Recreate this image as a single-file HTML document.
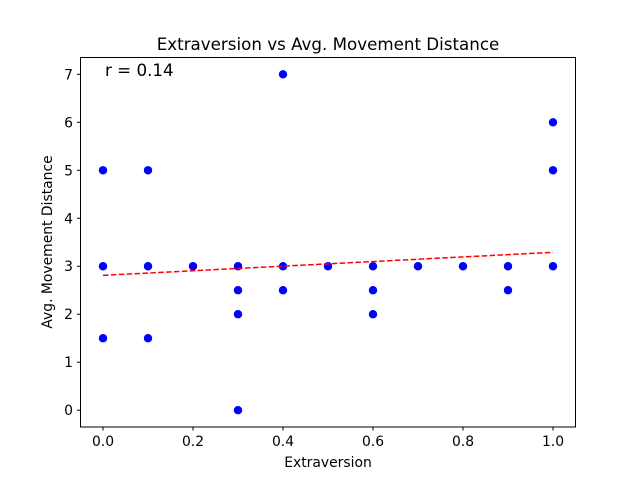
<!DOCTYPE html>
<html><head><meta charset="utf-8"><style>
body{margin:0;background:#fff;}
svg{display:block;font-family:"DejaVu Sans","Liberation Sans",sans-serif;}
</style></head><body>
<svg id="chart" width="640" height="480" viewBox="0 0 640 480">
<text x="328" y="50" text-anchor="middle" font-size="16.7">Extraversion vs Avg. Movement Distance</text>
<text x="105" y="76" font-size="16.7">r = 0.14</text>
<text x="328" y="467" text-anchor="middle" font-size="13.9">Extraversion</text>
<text transform="translate(52,242) rotate(-90)" text-anchor="middle" font-size="13.9">Avg. Movement Distance</text>
<g id="marks"></g>
<rect x="80.5" y="57.5" width="495" height="369.5" fill="none" stroke="#000" stroke-width="1"/>
</svg>
<script>
const xs = [0,0,0,0.1,0.1,0.1,0.2,0.3,0.3,0.3,0.3,0.4,0.4,0.4,0.5,0.6,0.6,0.6,0.7,0.8,0.9,0.9,1,1,1];
const ys = [5,3,1.5,5,3,1.5,3,3,2.5,2,0,7,3,2.5,3,3,2.5,2,3,3,3,2.5,6,5,3];
const xTicks = [0,0.2,0.4,0.6,0.8,1.0];
const xTickLabels = ["0.0","0.2","0.4","0.6","0.8","1.0"];
const yTicks = [0,1,2,3,4,5,6,7];
const trendX = [0,1];
const trendY = [2.81,3.29];
const X = v => 80.5 + (v + 0.05) / 1.1 * 495;
const Y = v => 427 - (v + 0.35) / 7.7 * 369.5;
const NS = "http://www.w3.org/2000/svg";
const g = document.getElementById('marks');
function mk(tag, attrs){const e=document.createElementNS(NS,tag);for(const k in attrs)e.setAttribute(k,attrs[k]);g.appendChild(e);return e;}
xTicks.forEach((t,i)=>{
  const l=mk('line',{x1:X(t),x2:X(t),y1:427,y2:430.5,stroke:'#000'});
  
  
  const tx=mk('text',{x:X(t),y:446,'text-anchor':'middle','font-size':13.9});
  tx.textContent=xTickLabels[i];
  
  
});
yTicks.forEach(t=>{
  const l=mk('line',{x1:77,x2:80.5,y1:Y(t),y2:Y(t),stroke:'#000'});
  
  
  const tx=mk('text',{x:73,y:Y(t)+5,'text-anchor':'end','font-size':13.9});
  tx.textContent=String(t);
  
  
});
xs.forEach((x,i)=>{
  const c=mk('circle',{cx:X(x),cy:Y(ys[i]),r:4.2,fill:'#0000ff'});
  
  
});
const tl=mk('line',{x1:X(trendX[0]),y1:Y(trendY[0]),x2:X(trendX[1]),y2:Y(trendY[1]),stroke:'#ff0000','stroke-width':1.5,'stroke-dasharray':'5.5,2.4'});


</script>
</body></html>
